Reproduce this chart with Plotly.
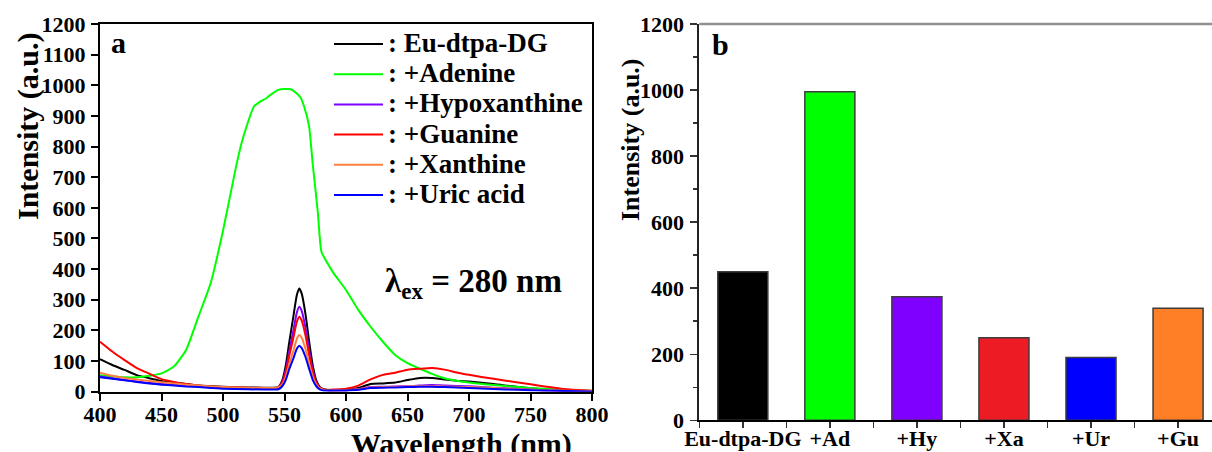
import plotly.graph_objects as go

# ---------------- data ----------------
wavelength = [400, 410, 420, 430, 440, 450, 460, 470, 480, 490, 500, 520, 540,
              545, 548, 551, 554, 557, 560, 562, 564, 567, 570, 573, 576, 579, 582,
              586, 590, 600, 610, 620, 630, 640, 650, 660, 670, 680, 690, 700,
              720, 740, 760, 780, 800]

eu_dtpa_dg = [106, 87, 71, 54, 44, 35, 30, 25, 20, 18, 16, 14, 13,
              15, 35, 85, 165, 240, 315, 337, 320, 255, 165, 85, 35, 14, 8,
              5, 5, 6, 12, 25, 27, 30, 38, 45, 45, 40, 36, 33, 25, 15, 8, 4, 2]
guanine = [163, 131, 103, 77, 59, 41, 32, 25, 20, 17, 15, 13, 12,
           14, 28, 62, 120, 172, 228, 245, 232, 185, 120, 62, 28, 12, 7,
           6, 7, 10, 20, 40, 55, 62, 72, 75, 77, 72, 63, 55, 42, 30, 18, 8, 3]
hypoxanthine = [50, 44, 38, 33, 28, 25, 22, 20, 18, 15, 13, 12, 11,
                14, 30, 70, 135, 195, 258, 277, 263, 210, 135, 70, 30, 12, 6,
                5, 5, 5, 8, 15, 16, 17, 18, 20, 22, 20, 19, 18, 13, 9, 5, 3, 2]
xanthine = [62, 52, 45, 40, 35, 31, 27, 23, 20, 17, 15, 13, 12,
            14, 22, 48, 92, 130, 172, 185, 176, 140, 92, 48, 22, 10, 6,
            5, 5, 5, 8, 14, 15, 16, 17, 18, 18, 17, 16, 15, 12, 8, 5, 3, 2]
uric_acid = [47, 42, 37, 32, 27, 23, 20, 17, 15, 12, 10, 8, 7,
             8, 17, 38, 75, 106, 140, 150, 142, 114, 75, 38, 17, 7, 4,
             4, 4, 4, 6, 12, 13, 14, 15, 16, 16, 15, 14, 12, 9, 6, 4, 2, 1]

wavelength_ad = [400, 410, 420, 430, 440, 450, 460, 470, 480, 490, 500, 510, 515,
                 520, 525, 530, 535, 540, 545, 550, 555, 560, 563, 566, 570, 573,
                 577, 580, 585, 590, 600, 610, 620, 630, 640, 650, 660, 670, 680,
                 690, 700, 720, 740, 760, 780, 800]
adenine = [54, 50, 47, 47, 52, 60, 82, 136, 245, 355, 525, 723, 810,
           876, 930, 946, 957, 973, 985, 988, 987, 973, 960, 930, 866, 740,
           590, 457, 419, 386, 332, 267, 212, 163, 120, 93, 75, 58, 44,
           36, 30, 22, 15, 10, 5, 3]

series_names = ["Eu-dtpa-DG", "+Adenine", "+Hypoxanthine", "+Guanine", "+Xanthine", "+Uric acid"]
series_x = [wavelength, wavelength_ad, wavelength, wavelength, wavelength, wavelength]
series_y = [eu_dtpa_dg, adenine, hypoxanthine, guanine, xanthine, uric_acid]
series_colors = ["#000000", "#00ff00", "#8000ff", "#ff0000", "#ff8040", "#0000ff"]

bar_categories = ["Eu-dtpa-DG", "+Ad", "+Hy", "+Xa", "+Ur", "+Gu"]
bar_values = [450, 995, 374, 250, 190, 339]
bar_colors = ["#000000", "#00ff00", "#8000ff", "#ed1c24", "#0000ff", "#ff7f27"]

# ---------------- figure ----------------
W, H = 1212, 452
FONT = "Liberation Serif"


def fx(p):
    return p / W


def fy(p):
    return 1 - p / H


fig = go.Figure()

for name, xs, ys, col in zip(series_names, series_x, series_y, series_colors):
    fig.add_trace(go.Scatter(x=xs, y=ys, mode="lines", name=name,
                             line=dict(color=col, width=2, shape="spline", smoothing=0.5),
                             xaxis="x", yaxis="y", showlegend=False))

bar_pos = list(range(len(bar_categories)))
fig.add_trace(go.Bar(x=bar_pos, y=bar_values, width=0.575,
                     marker=dict(color=bar_colors, line=dict(color="#3c3c3c", width=1.5)),
                     xaxis="x2", yaxis="y2", showlegend=False))

tickfont = dict(family=FONT, size=22, color="black", weight="bold")

fig.update_layout(
    template="none",
    width=W, height=H,
    margin=dict(l=0, r=0, t=0, b=0, pad=0, autoexpand=False),
    paper_bgcolor="white", plot_bgcolor="white",
    showlegend=False,
    hovermode=False,
    xaxis=dict(domain=[fx(100), fx(592)], range=[400, 800], dtick=50, tick0=400,
               ticks="outside", ticklen=7, tickwidth=2, tickcolor="black",
               showline=True, linecolor="black", linewidth=2, mirror=True,
               showgrid=False, zeroline=False, tickfont=tickfont, automargin=False,
               ticklabelstandoff=-5),
    yaxis=dict(domain=[fy(391.7), fy(24)], range=[0, 1200], dtick=100, tick0=0,
               ticks="outside", ticklen=7, tickwidth=2, tickcolor="black",
               showline=True, linecolor="black", linewidth=2, mirror=True,
               showgrid=False, zeroline=False, tickfont=tickfont, automargin=False,
               ticklabelstandoff=1),
    xaxis2=dict(domain=[fx(699.3), 1.0], range=[-0.5, 5.39],
                tickvals=bar_pos, ticktext=bar_categories,
                ticks="outside", ticklen=6, tickwidth=1.5, tickcolor="#333333",
                minor=dict(ticks="outside", ticklen=6, tickwidth=1.5, tickcolor="#333333",
                           tick0=0.5, dtick=1),
                showline=True, linecolor="black", linewidth=2, mirror=False,
                showgrid=False, zeroline=False, tickfont=tickfont, anchor="y2",
                automargin=False, ticklabelstandoff=-9),
    yaxis2=dict(domain=[fy(420.3), fy(24)], range=[0, 1200], dtick=200, tick0=0,
                ticks="outside", ticklen=7, tickwidth=1.5, tickcolor="#333333",
                minor=dict(ticks="outside", ticklen=4, tickwidth=1.5, tickcolor="#333333",
                           dtick=100),
                showline=True, linecolor="#222222", linewidth=2, mirror=False,
                showgrid=False, zeroline=False, tickfont=tickfont, anchor="x2",
                automargin=False, ticklabelstandoff=2),
)

# top frame line of panel b (grey, no right border)
fig.add_shape(type="line", xref="x2 domain", yref="y2 domain", x0=0, x1=1, y0=1, y1=1,
              line=dict(color="#909090", width=2.5))

annotations = []


def ann(text, x, y, size, angle=0, xanchor="center"):
    annotations.append(dict(text=text, x=fx(x), y=fy(y), xref="paper", yref="paper",
                            showarrow=False, textangle=angle, xanchor=xanchor, yanchor="middle",
                            font=dict(family=FONT, size=size, color="black", weight="bold")))


ann("Intensity (a.u.)", 28, 126, 30, angle=-90)
ann("Wavelength (nm)", 461, 444, 30)
ann("Intensity (a.u.)", 630, 140, 26, angle=-90)
ann("a", 118, 43, 30)
ann("b", 720, 44, 30)
ann("<b>λ<sub>ex</sub> = 280 nm</b>", 473, 283, 33)

# legend of panel a
leg_y0, leg_dy = 44, 30.2
for i, (name, col) in enumerate(zip(series_names, series_colors)):
    yy = leg_y0 + i * leg_dy
    fig.add_shape(type="line", xref="paper", yref="paper", x0=fx(334), x1=fx(383),
                  y0=fy(yy), y1=fy(yy), line=dict(color=col, width=2))
    ann(": " + name, 386, yy - 1, 27, xanchor="left")

fig.update_layout(annotations=annotations)

fig.write_html("out.html",
               config={"displayModeBar": False, "staticPlot": True},
               post_script="document.body.style.margin='0';document.body.style.overflow='hidden';")
